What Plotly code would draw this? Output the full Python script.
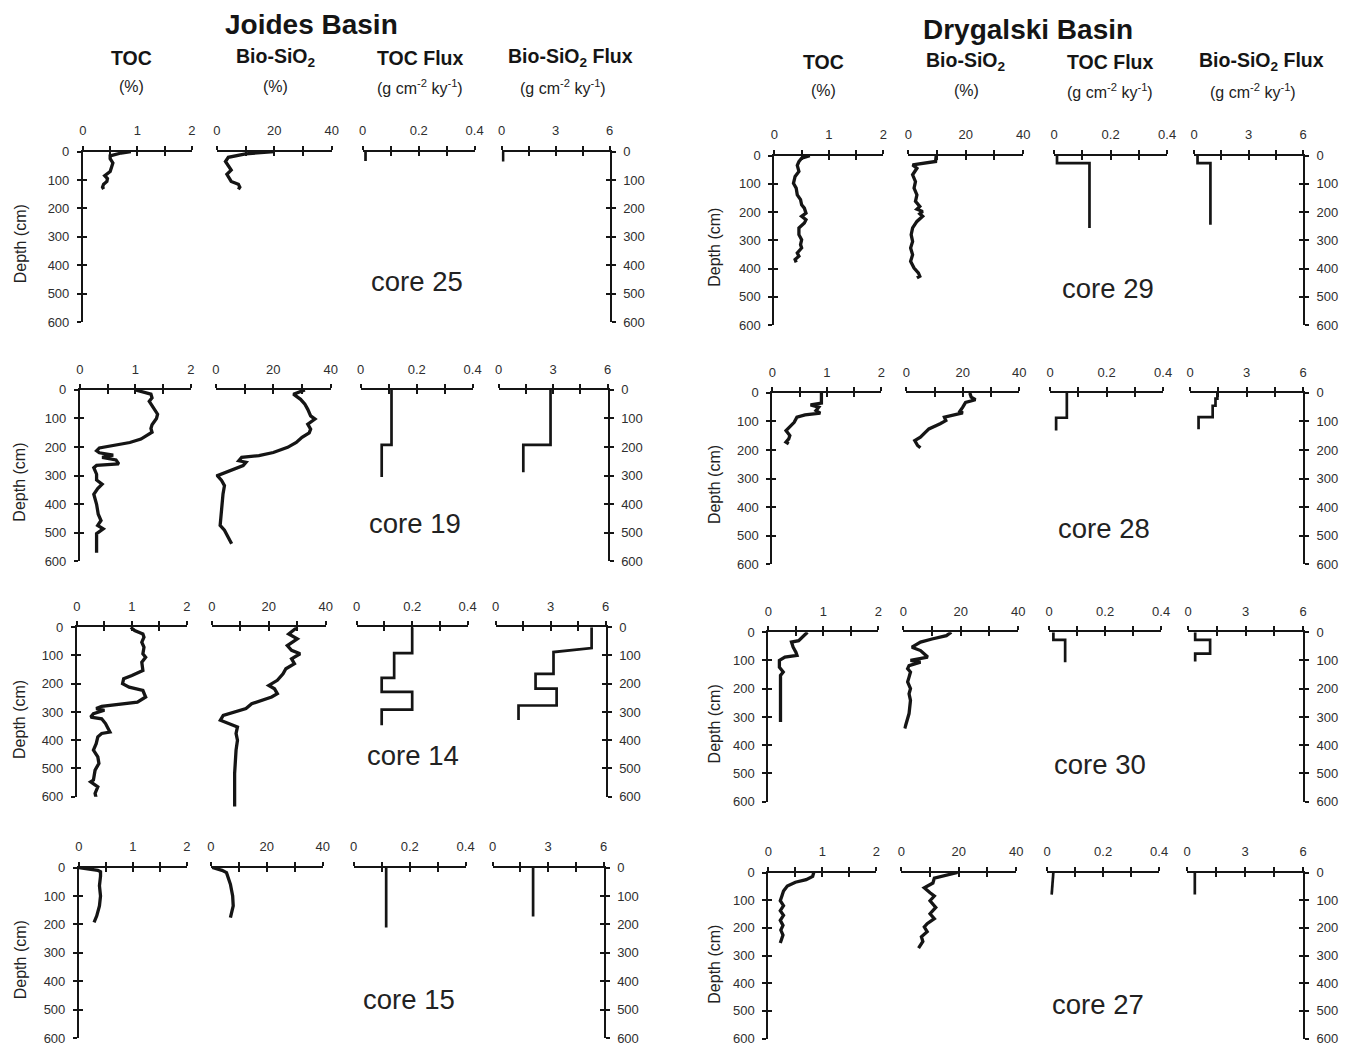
import plotly.graph_objects as go

W, H = 1345, 1047

# ---------------- DATA ----------------
# Joides Basin
toc25_depth = [0, 5, 15, 25, 40, 55, 70, 85, 95, 105, 115, 125, 132]
toc25 = [0.88, 0.7, 0.5, 0.5, 0.55, 0.52, 0.5, 0.4, 0.45, 0.44, 0.38, 0.36, 0.38]
bio25_depth = [0, 8, 20, 35, 50, 65, 80, 95, 105, 115, 125, 133]
bio25 = [20, 10, 4, 3, 4, 5, 3.5, 4.5, 5, 7.5, 8, 7.5]
tocflux25_depth = [0, 33]
tocflux25 = [0.01, 0.01]
bioflux25_depth = [0, 35]
bioflux25 = [0.08, 0.08]

toc19_depth = [0, 5, 15, 28, 40, 55, 70, 85, 100, 110, 122, 135, 148, 160, 172, 184, 195, 203, 213, 220,
               228, 236, 245, 259, 264, 272, 295, 315, 330, 345, 365, 400, 435, 457, 474, 486, 503, 530, 570]
toc19 = [1.0, 1.08, 1.28, 1.3, 1.25, 1.3, 1.35, 1.4, 1.38, 1.35, 1.3, 1.28, 1.3, 1.2, 1.1, 0.9, 0.6, 0.35, 0.3, 0.35,
         0.6, 0.4, 0.65, 0.7, 0.3, 0.25, 0.3, 0.3, 0.4, 0.32, 0.25, 0.3, 0.33, 0.38, 0.32, 0.42, 0.3, 0.3, 0.3]
bio19_depth = [0, 15, 33, 50, 68, 91, 102, 120, 137, 150, 166, 184, 201, 219, 230, 236, 248, 253, 265, 283,
               300, 317, 335, 364, 434, 474, 491, 538]
bio19 = [31, 27, 29.5, 31, 32, 33, 34.5, 32, 33, 32.5, 30, 28, 25, 20, 15, 9, 8, 10.5, 9.5, 5,
         0.5, 2, 3, 2.5, 2, 1.5, 3, 5.5]
tocflux19_depth = [0, 192, 192, 305]
tocflux19 = [0.11, 0.11, 0.075, 0.075]
bioflux19_depth = [0, 192, 192, 288]
bioflux19 = [2.86, 2.86, 1.36, 1.36]

toc14_depth = [0, 12, 24, 35, 53, 71, 94, 106, 124, 153, 171, 182, 200, 212, 224, 247, 265, 273, 280, 288,
               294, 306, 318, 324, 341, 371, 376, 388, 412, 435, 459, 482, 506, 541, 547, 565, 588, 606, 615]
toc14 = [0.98, 1.05, 1.2, 1.22, 1.18, 1.22, 1.2, 1.25, 1.18, 1.2, 1.0, 0.85, 0.83, 0.95, 1.2, 1.25, 1.1, 0.7, 0.45, 0.35,
         0.5, 0.3, 0.25, 0.45, 0.52, 0.6, 0.45, 0.38, 0.35, 0.3, 0.38, 0.4, 0.33, 0.3, 0.25, 0.38, 0.33, 0.35, 0.3]
bio14_depth = [0, 24, 41, 65, 82, 94, 112, 129, 147, 165, 188, 206, 218, 235, 247, 259, 271, 288, 300, 312,
               329, 341, 353, 376, 400, 435, 518, 635]
bio14 = [30, 27, 30, 26.5, 28, 31, 28, 29, 26, 25, 23, 20, 22, 23, 21, 17, 14, 12, 8, 4,
         3, 6, 9, 8.5, 9, 8.5, 8, 8]
tocflux14_depth = [0, 92, 92, 179, 179, 229, 229, 292, 292, 347]
tocflux14 = [0.2, 0.2, 0.135, 0.135, 0.09, 0.09, 0.2, 0.2, 0.09, 0.09]
bioflux14_depth = [0, 74, 88, 165, 165, 217, 217, 277, 277, 328]
bioflux14 = [5.24, 5.24, 3.16, 3.16, 2.18, 2.18, 3.33, 3.33, 1.25, 1.25]

toc15_depth = [0, 10, 15, 30, 64, 100, 135, 170, 193]
toc15 = [0.0, 0.35, 0.4, 0.4, 0.38, 0.4, 0.38, 0.33, 0.28]
bio15_depth = [0, 10, 18, 41, 59, 100, 135, 176]
bio15 = [0.5, 4, 5.6, 6.5, 7, 7.8, 8, 7]
tocflux15_depth = [0, 211]
tocflux15 = [0.116, 0.116]
bioflux15_depth = [0, 172]
bioflux15 = [2.19, 2.19]

# Drygalski Basin
toc29_depth = [0, 9, 21, 35, 56, 74, 98, 115, 139, 156, 174, 186, 204, 215, 227, 239, 256, 280, 298, 315,
               327, 345, 356, 368, 378]
toc29 = [0.65, 0.5, 0.45, 0.42, 0.45, 0.38, 0.35, 0.4, 0.42, 0.48, 0.5, 0.55, 0.58, 0.5, 0.58, 0.55, 0.45, 0.45, 0.5, 0.48,
         0.5, 0.42, 0.45, 0.38, 0.4]
bio29_depth = [0, 21, 33, 45, 68, 92, 115, 139, 162, 180, 190, 198, 206, 215, 233, 256, 280, 304, 327, 351,
               374, 398, 415, 427, 433]
bio29 = [9.7, 9.5, 1.5, 3, 1.5, 2.5, 2, 3, 2.5, 4, 3, 5, 4, 5, 3, 1.5, 1, 1.5, 0.8, 1.5,
         0.8, 2, 3.5, 4, 3]
tocflux29_depth = [0, 27, 27, 256]
tocflux29 = [0.01, 0.01, 0.125, 0.125]
bioflux29_depth = [0, 27, 27, 245]
bioflux29 = [0.19, 0.19, 0.9, 0.9]

toc28_depth = [0, 36, 42, 50, 62, 71, 77, 85, 103, 120, 132, 149, 161, 172, 178]
toc28 = [0.9, 0.9, 0.7, 0.85, 0.8, 0.88, 0.6, 0.45, 0.4, 0.3, 0.25, 0.32, 0.3, 0.25, 0.3]
bio28_depth = [0, 15, 24, 33, 50, 64, 70, 79, 85, 97, 108, 126, 155, 167, 184, 192]
bio28 = [22.5, 23, 24.5, 21, 20, 19, 20, 16, 13.5, 14, 12, 8, 5, 3, 4, 5]
tocflux28_depth = [0, 87, 87, 132]
tocflux28 = [0.059, 0.059, 0.021, 0.021]
bioflux28_depth = [0, 20, 20, 45, 45, 85, 85, 127]
bioflux28 = [1.45, 1.45, 1.35, 1.35, 1.2, 1.2, 0.45, 0.45]

toc30_depth = [0, 12, 24, 30, 35, 53, 71, 82, 88, 100, 124, 141, 153, 194, 241, 318]
toc30 = [0.71, 0.65, 0.6, 0.55, 0.42, 0.45, 0.5, 0.52, 0.3, 0.2, 0.2, 0.27, 0.22, 0.22, 0.22, 0.22]
bio30_depth = [0, 12, 24, 35, 53, 65, 88, 100, 106, 118, 129, 141, 159, 176, 200, 218, 241, 288, 341]
bio30 = [16.7, 15, 10, 6, 3, 6, 8.5, 2.5, 6, 2, 1.5, 2.5, 2, 1.5, 2.5, 2, 2.5, 2, 0.5]
tocflux30_depth = [0, 27, 27, 106]
tocflux30 = [0.015, 0.015, 0.057, 0.057]
bioflux30_depth = [0, 27, 27, 76, 76, 104]
bioflux30 = [0.37, 0.37, 1.15, 1.15, 0.37, 0.37]

toc27_depth = [0, 14, 26, 35, 49, 67, 85, 102, 120, 138, 155, 173, 191, 208, 226, 255]
toc27 = [0.84, 0.82, 0.7, 0.5, 0.35, 0.28, 0.25, 0.22, 0.28, 0.22, 0.28, 0.22, 0.27, 0.23, 0.27, 0.22]
bio27_depth = [0, 20, 38, 55, 73, 85, 102, 126, 149, 167, 185, 197, 214, 232, 249, 273]
bio27 = [19.6, 11.5, 11, 8, 10, 11.5, 10, 12, 10, 11.5, 9, 8, 9, 7, 7.5, 6]
tocflux27_depth = [0, 80]
tocflux27 = [0.022, 0.016]
bioflux27_depth = [0, 79]
bioflux27 = [0.4, 0.4]

basin_titles = ["Joides Basin", "Drygalski Basin"]
col_headers = ["TOC", "Bio-SiO<sub>2</sub>", "TOC Flux", "Bio-SiO<sub>2</sub> Flux"]
col_units = ["(%)", "(%)", "(g cm<sup>-2</sup> ky<sup>-1</sup>)", "(g cm<sup>-2</sup> ky<sup>-1</sup>)"]
x_max = [2, 40, 0.4, 6]
x_labelvals = [[0, 1, 2], [0, 20, 40], [0, 0.2, 0.4], [0, 3, 6]]
x_labeltext = [["0", "1", "2"], ["0", "20", "40"], ["0", "0.2", "0.4"], ["0", "3", "6"]]
x_minorvals = [[0.5, 1.5], [10, 30], [0.1, 0.3], [1.5, 4.5]]
depth_ticks = [0, 100, 200, 300, 400, 500, 600]

cores = [
    ("core 25", (toc25_depth, toc25), (bio25_depth, bio25), (tocflux25_depth, tocflux25), (bioflux25_depth, bioflux25)),
    ("core 19", (toc19_depth, toc19), (bio19_depth, bio19), (tocflux19_depth, tocflux19), (bioflux19_depth, bioflux19)),
    ("core 14", (toc14_depth, toc14), (bio14_depth, bio14), (tocflux14_depth, tocflux14), (bioflux14_depth, bioflux14)),
    ("core 15", (toc15_depth, toc15), (bio15_depth, bio15), (tocflux15_depth, tocflux15), (bioflux15_depth, bioflux15)),
    ("core 29", (toc29_depth, toc29), (bio29_depth, bio29), (tocflux29_depth, tocflux29), (bioflux29_depth, bioflux29)),
    ("core 28", (toc28_depth, toc28), (bio28_depth, bio28), (tocflux28_depth, tocflux28), (bioflux28_depth, bioflux28)),
    ("core 30", (toc30_depth, toc30), (bio30_depth, bio30), (tocflux30_depth, tocflux30), (bioflux30_depth, bioflux30)),
    ("core 27", (toc27_depth, toc27), (bio27_depth, bio27), (tocflux27_depth, tocflux27), (bioflux27_depth, bioflux27)),
]

# ---------------- LAYOUT GEOMETRY (target pixels in the photographed page) ----------------
rows = [
    (150, 321, [(82, 191), (216, 331), (362, 474), (501, 609)], (416, 280), 19),
    (389, 561, [(79, 190), (215, 330), (360, 472), (498, 607)], (414, 523), 19),
    (627, 797, [(76, 186), (211, 325), (356, 467), (495, 605)], (412, 756), 19),
    (868, 1039, [(78, 186), (210, 322), (353, 465), (492, 603)], (408, 1000), 19),
    (154, 324, [(774, 883), (908, 1023), (1054, 1167), (1194, 1303)], (1108, 287), 714),
    (392, 564, [(772, 881), (906, 1019), (1050, 1163), (1190, 1303)], (1104, 528), 714),
    (632, 802, [(768, 878), (903, 1018), (1049, 1161), (1188, 1303)], (1100, 765), 714),
    (873, 1043, [(768, 876), (901, 1016), (1047, 1159), (1187, 1303)], (1098, 1005), 714),
]
header_pos = [
    dict(title=(311, 23), head_y=56, unit_y=85, cols=[131, 275, 419, 570], ucols=[131, 275, 419, 562]),
    dict(title=(1028, 28), head_y=60, unit_y=89, cols=[823, 966, 1110, 1261], ucols=[823, 966, 1110, 1253]),
]

# the photographed page maps figure pixels slightly (x' = AX*x + BX, y' = AY*y + BY)
AX, BX = 0.9911, 3.0
AY, BY = 0.9885, 5.0

FONT = "Liberation Sans, Arial, Helvetica, sans-serif"
INK = "#151515"
TICKC = "#2e2e2e"
TL = 4      # tick length (each side of the axis line)
TW = 1.6    # tick width
TICKFONT = dict(family=FONT, size=13, color=TICKC)

fig = go.Figure()
layout = {}
annotations = []

def fx(x):
    return (x - BX) / AX

def fy(y):
    return (y - BY) / AY

def px(x):
    return fx(x) / W

def py(y):
    return 1 - fy(y) / H

n = 0
overlay_base = 100
for ci, (label, toc, bio, tfl, bfl) in enumerate(cores):
    y0, y600, xr, (lx, ly), dlx = rows[ci]
    y0s, y600s = fy(y0), min(fy(y600), H - 0.5)
    series = [toc, bio, tfl, bfl]
    for p in range(4):
        n += 1
        x0, x1 = xr[p]
        has_y = p in (0, 3)
        limit = 600.0 * (H - 0.5 - y0s) / (y600s - y0s)
        ymax = min(600.0 if has_y else 660.0, limit)
        ybot = y0s + (y600s - y0s) * ymax / 600.0
        xdom = [px(x0), px(x1)]
        ydom = [max(0.0, 1 - ybot / H), 1 - y0s / H]
        m = overlay_base + n
        all_x_ticks = sorted(x_labelvals[p] + x_minorvals[p])
        layout[f"xaxis{n}"] = dict(
            domain=xdom, range=[0, x_max[p]], anchor=f"y{n}", side="top",
            showline=True, linecolor=INK, linewidth=2,
            ticks="outside", ticklen=TL, tickwidth=TW, tickcolor=INK,
            tickmode="array", tickvals=x_labelvals[p], ticktext=x_labeltext[p],
            minor=dict(tickmode="array", tickvals=x_minorvals[p], ticks="outside",
                       ticklen=TL, tickwidth=TW, tickcolor=INK, showgrid=False),
            tickfont=TICKFONT, ticklabelstandoff=5,
            showgrid=False, zeroline=False, fixedrange=True,
        )
        layout[f"xaxis{m}"] = dict(
            overlaying=f"x{n}", range=[0, x_max[p]], anchor=f"y{n}", side="top",
            showline=False, ticks="inside", ticklen=TL, tickwidth=TW, tickcolor=INK,
            tickmode="array", tickvals=all_x_ticks, showticklabels=False,
            showgrid=False, zeroline=False, fixedrange=True,
        )
        fig.add_trace(go.Scatter(x=[None], y=[None], xaxis=f"x{m}", yaxis=f"y{n}",
                                 showlegend=False, hoverinfo="skip"))
        yax = dict(domain=ydom, range=[ymax, 0], anchor=f"x{n}",
                   showgrid=False, zeroline=False, fixedrange=True)
        if has_y:
            side = "left" if p == 0 else "right"
            yax.update(side=side, showline=True, linecolor=INK, linewidth=2,
                       ticks="outside", ticklen=TL, tickwidth=TW, tickcolor=INK,
                       tickmode="array", tickvals=depth_ticks,
                       tickfont=TICKFONT, ticklabelstandoff=5)
            layout[f"yaxis{m}"] = dict(
                overlaying=f"y{n}", range=[ymax, 0], anchor=f"x{n}", side=side,
                showline=False, ticks="inside", ticklen=TL, tickwidth=TW, tickcolor=INK,
                tickmode="array", tickvals=depth_ticks, showticklabels=False,
                showgrid=False, zeroline=False, fixedrange=True,
            )
            fig.add_trace(go.Scatter(x=[None], y=[None], xaxis=f"x{n}", yaxis=f"y{m}",
                                     showlegend=False, hoverinfo="skip"))
        else:
            yax.update(visible=False)
        layout[f"yaxis{n}"] = yax

        d, v = series[p]
        fig.add_trace(go.Scatter(x=v, y=d, mode="lines", xaxis=f"x{n}", yaxis=f"y{n}",
                                 line=dict(color=INK, width=3.3 if p < 2 else 2.7),
                                 showlegend=False, hoverinfo="skip"))

    annotations.append(dict(text=label, x=px(lx), y=py(ly), xref="paper", yref="paper",
                            xanchor="center", yanchor="middle", showarrow=False,
                            font=dict(family=FONT, size=27.5, color="#222222")))
    annotations.append(dict(text="Depth (cm)", x=px(dlx), y=py(y0 + 92), xref="paper", yref="paper",
                            xanchor="center", yanchor="middle", showarrow=False, textangle=-90,
                            font=dict(family=FONT, size=16, color="#222222")))

for b in range(2):
    hp = header_pos[b]
    tx, ty = hp["title"]
    annotations.append(dict(text=f"<b>{basin_titles[b]}</b>", x=px(tx), y=py(ty), xref="paper", yref="paper",
                            xanchor="center", yanchor="middle", showarrow=False,
                            font=dict(family=FONT, size=28, color=INK)))
    for p in range(4):
        annotations.append(dict(text=f"<b>{col_headers[p]}</b>", x=px(hp["cols"][p]), y=py(hp["head_y"]),
                                xref="paper", yref="paper", xanchor="center", yanchor="middle",
                                showarrow=False, font=dict(family=FONT, size=19.5, color=INK)))
        annotations.append(dict(text=col_units[p], x=px(hp["ucols"][p]), y=py(hp["unit_y"]),
                                xref="paper", yref="paper", xanchor="center", yanchor="middle",
                                showarrow=False, font=dict(family=FONT, size=16, color="#222222")))

fig.update_layout(
    width=W, height=H, margin=dict(l=0, r=0, t=0, b=0),
    paper_bgcolor="white", plot_bgcolor="rgba(0,0,0,0)",
    showlegend=False, annotations=annotations, **layout,
)

fig.write_html(
    "out.html",
    config={"displayModeBar": False, "responsive": False},
    post_script=(
        "document.documentElement.style.margin='0';document.documentElement.style.padding='0';"
        "document.documentElement.style.overflow='hidden';"
        "document.body.style.margin='0';document.body.style.padding='0';"
        "document.body.style.overflow='hidden';"
    ),
)
